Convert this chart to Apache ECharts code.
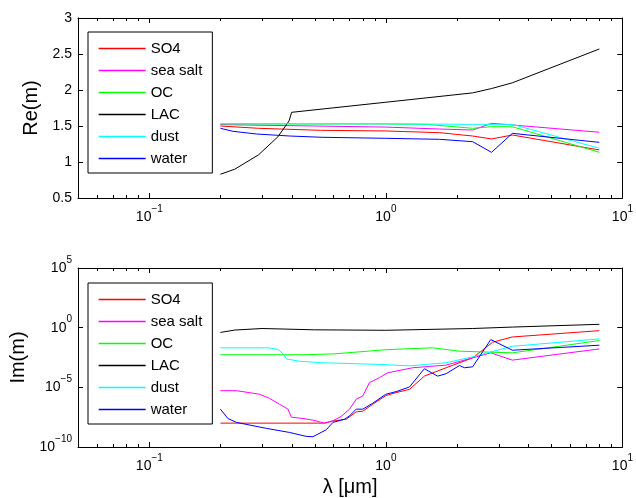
<!DOCTYPE html>
<html><head><meta charset="utf-8">
<script src="https://cdn.jsdelivr.net/npm/echarts@6/dist/echarts.min.js"></script>
<style>html,body{margin:0;padding:0;background:#fff}#c{width:636px;height:498px}</style>
</head><body><div id="c"></div>
<script>
// ---------- Data ----------
const seriesNames = ['SO4', 'sea salt', 'OC', 'LAC', 'dust', 'water'];
const seriesColors = ['#ff0000', '#ff00ff', '#00ff00', '#000000', '#00ffff', '#0000ff'];

// Real part Re(m): wavelengths (µm) and values
const reLamSO4 = [0.2, 0.29, 0.53, 1.0, 1.69, 2.33, 2.8, 3.43, 8.0];
const reSO4    = [1.50, 1.468, 1.44, 1.431, 1.407, 1.361, 1.32, 1.375, 1.167];
const reLamSeaSalt = [0.2, 0.3, 0.5, 1.0, 1.69, 2.33, 2.8, 3.43, 8.0];
const reSeaSalt    = [1.52, 1.51, 1.50, 1.485, 1.458, 1.444, 1.537, 1.514, 1.413];
const reLamOC = [0.2, 1.0, 1.5, 2.33, 2.8, 3.43, 8.0];
const reOC    = [1.528, 1.528, 1.522, 1.468, 1.49, 1.49, 1.134];
const reLamLAC = [0.2, 0.23, 0.29, 0.35, 0.39, 0.40, 1.0, 2.33, 2.8, 3.43, 8.0];
const reLAC    = [0.83, 0.90, 1.10, 1.35, 1.57, 1.69, 1.83, 1.96, 2.02, 2.10, 2.57];
const reLamDust = [0.2, 1.0, 2.33, 3.43, 8.0];
const reDust    = [1.532, 1.53, 1.523, 1.523, 1.19];
const reLamWater = [0.2, 0.226, 0.284, 0.392, 0.542, 1.0, 1.69, 2.33, 2.8, 3.43, 8.0];
const reWater    = [1.468, 1.426, 1.389, 1.361, 1.343, 1.329, 1.315, 1.282, 1.134, 1.398, 1.273];

// Imaginary part Im(m): wavelengths (µm) and log10 of values
const imLamSO4 = [0.2, 0.55, 0.598, 0.68, 0.75, 0.80, 0.88, 1.0, 1.106, 1.26, 1.456, 1.8, 2.33, 2.83, 3.43, 8.0];
const imLogSO4 = [-8.0, -8.0, -7.83, -7.67, -7.06, -7.0, -6.42, -5.7, -5.44, -5.17, -4.06, -3.36, -2.53, -1.22, -0.78, -0.25];
const imLamSeaSalt = [0.2, 0.234, 0.293, 0.322, 0.356, 0.386, 0.399, 0.447, 0.492, 0.551, 0.598, 0.648, 0.703, 0.75, 0.80, 0.853, 0.94, 1.02, 1.3, 1.8, 2.33, 2.78, 3.43, 8.0];
const imLogSeaSalt = [-5.28, -5.28, -5.58, -5.92, -6.42, -6.83, -7.5, -7.61, -7.75, -8.0, -7.8, -7.44, -6.83, -6.0, -5.72, -4.61, -4.19, -3.78, -3.36, -3.14, -2.53, -2.11, -2.72, -1.78];
const imLamOC = [0.2, 0.45, 0.6, 1.0, 1.3, 1.58, 2.05, 3.43, 8.0];
const imLogOC = [-2.27, -2.27, -2.2, -1.85, -1.75, -1.69, -1.97, -2.11, -1.08];
const imLamLAC = [0.2, 0.23, 0.3, 0.5, 1.0, 2.33, 3.43, 8.0];
const imLogLAC = [-0.4, -0.2, -0.07, -0.18, -0.22, -0.07, 0.05, 0.28];
const imLamDust = [0.2, 0.32, 0.35, 0.368, 0.38, 0.43, 0.54, 0.94, 1.26, 1.8, 2.33, 3.43, 8.0];
const imLogDust = [-1.69, -1.69, -1.83, -2.17, -2.61, -2.81, -2.94, -3.08, -3.2, -2.94, -2.44, -1.56, -0.94];
const imLamWater = [0.2, 0.215, 0.234, 0.313, 0.392, 0.461, 0.492, 0.56, 0.598, 0.67, 0.703, 0.75, 0.80, 0.881, 1.0, 1.106, 1.26, 1.456, 1.657, 1.8, 2.05, 2.15, 2.33, 2.78, 3.43, 8.0];
const imLogWater = [-6.83, -7.61, -7.94, -8.44, -8.78, -9.11, -9.14, -8.56, -7.94, -7.67, -7.39, -6.83, -6.83, -6.33, -5.58, -5.36, -4.97, -3.44, -4.06, -3.86, -3.17, -3.36, -3.28, -1.0, -1.89, -1.47];

// Axis ticks
const reTicks = [0.5, 1, 1.5, 2, 2.5, 3];
const xMinorTicks = [0.06, 0.07, 0.08, 0.09, 0.2, 0.3, 0.4, 0.5, 0.6, 0.7, 0.8, 0.9, 2, 3, 4, 5, 6, 7, 8, 9];

// ---------- Build ----------
const FONT = 'Liberation Sans, Arial, Helvetica, sans-serif';
const reLams = [reLamSO4, reLamSeaSalt, reLamOC, reLamLAC, reLamDust, reLamWater];
const reVals = [reSO4, reSeaSalt, reOC, reLAC, reDust, reWater];
const imLams = [imLamSO4, imLamSeaSalt, imLamOC, imLamLAC, imLamDust, imLamWater];
const imLogs = [imLogSO4, imLogSeaSalt, imLogOC, imLogLAC, imLogDust, imLogWater];

function pow10Label(v) {
  const e = Math.round(Math.log10(v));
  const s = e < 0 ? '\u2212' + (-e) : String(e);
  return '{h| }{b|10}{s|' + s + '}';
}
const richSup = {
  h: { fontSize: 1, lineHeight: 26 },
  b: { fontSize: 14, fontFamily: FONT, color: '#000', lineHeight: 14, verticalAlign: 'middle' },
  s: { fontSize: 10, fontFamily: FONT, color: '#000', lineHeight: 10, verticalAlign: 'top' }
};

function xAxes(grid, name) {
  const common = {
    type: 'log', logBase: 10, min: 0.05, max: 10, gridIndex: grid,
    axisLine: { show: true, onZero: false, lineStyle: { color: '#000', width: 1 } },
    axisTick: { show: true, inside: true, length: 5, lineStyle: { color: '#000' } },
    splitLine: { show: false }, minorTick: { show: false }
  };
  return [
    Object.assign({}, common, {
      position: 'bottom',
      axisLabel: { show: true, showMinLabel: false, margin: 6, formatter: pow10Label, rich: richSup },
      name: name || '', nameLocation: 'middle', nameGap: 30,
      nameTextStyle: { fontSize: 20, fontFamily: FONT, color: '#000' }
    }),
    Object.assign({}, common, { position: 'top', axisLabel: { show: false } })
  ];
}

const reYCommon = {
  type: 'value', min: 0.5, max: 3, interval: 0.5, gridIndex: 0,
  axisLine: { show: true, onZero: false, lineStyle: { color: '#000', width: 1 } },
  axisTick: { show: true, inside: true, length: 5, lineStyle: { color: '#000' } },
  splitLine: { show: false }
};
const imYCommon = {
  type: 'log', logBase: 100000, min: 1e-10, max: 1e5, gridIndex: 1,
  axisLine: { show: true, onZero: false, lineStyle: { color: '#000', width: 1 } },
  axisTick: { show: true, inside: true, length: 5, lineStyle: { color: '#000' } },
  splitLine: { show: false }
};

const yAxis = [
  Object.assign({}, reYCommon, {
    position: 'left',
    axisLabel: { show: true, fontSize: 14, fontFamily: FONT, color: '#000', margin: 6,
      formatter: v => reTicks.indexOf(v) >= 0 ? String(v) : '' },
    name: 'Re(m)', nameLocation: 'middle', nameGap: 31,
    nameTextStyle: { fontSize: 20, fontFamily: FONT, color: '#000' }
  }),
  Object.assign({}, reYCommon, { position: 'right', axisLabel: { show: false } }),
  Object.assign({}, imYCommon, {
    position: 'left',
    axisLabel: { show: true, margin: 6, formatter: pow10Label, rich: richSup },
    name: 'Im(m)', nameLocation: 'middle', nameGap: 49,
    nameTextStyle: { fontSize: 20, fontFamily: FONT, color: '#000' }
  }),
  Object.assign({}, imYCommon, { position: 'right', axisLabel: { show: false } })
];

const xAxis = xAxes(0).concat(xAxes(1, '\u03bb [\u03bcm]'));

const series = [];
seriesNames.forEach((n, i) => {
  series.push({
    type: 'line', name: n, xAxisIndex: 0, yAxisIndex: 0, symbol: 'none',
    lineStyle: { color: seriesColors[i], width: 1 }, itemStyle: { color: seriesColors[i] },
    data: reLams[i].map((x, k) => [x, reVals[i][k]])
  });
});
seriesNames.forEach((n, i) => {
  series.push({
    type: 'line', name: n, xAxisIndex: 2, yAxisIndex: 2, symbol: 'none',
    lineStyle: { color: seriesColors[i], width: 1 }, itemStyle: { color: seriesColors[i] },
    data: imLams[i].map((x, k) => [x, Math.pow(10, imLogs[i][k])])
  });
});

function minorTickSeries(xi, yi, yMin, yMax) {
  return {
    type: 'custom', xAxisIndex: xi, yAxisIndex: yi, silent: true, clip: false,
    data: xMinorTicks.map(v => [v, yMin]),
    renderItem: (params, api) => {
      const x = api.value(0);
      const pb = api.coord([x, yMin]);
      const pt = api.coord([x, yMax]);
      const px = Math.round(pb[0]) + 0.5;
      return { type: 'group', children: [
        { type: 'line', shape: { x1: px, y1: pb[1], x2: px, y2: pb[1] - 3 }, style: { stroke: '#000', lineWidth: 1 } },
        { type: 'line', shape: { x1: px, y1: pt[1], x2: px, y2: pt[1] + 3 }, style: { stroke: '#000', lineWidth: 1 } }
      ] };
    }
  };
}
series.push(minorTickSeries(0, 0, 0.5, 3));
series.push(minorTickSeries(2, 2, 1e-10, 1e5));

function legendAt(top) {
  return {
    data: seriesNames, orient: 'vertical', left: 88, top: top,
    itemWidth: 47, itemHeight: 14, itemGap: 7,
    padding: [9, 10, 7, 10],
    borderColor: '#000', borderWidth: 1, backgroundColor: '#fff', borderRadius: 0,
    itemStyle: { opacity: 0 },
    lineStyle: { color: 'inherit', width: 1.3 },
    textStyle: { fontSize: 15, fontFamily: FONT, color: '#000' },
    selectedMode: false
  };
}

const chart = echarts.init(document.getElementById('c'), null, { renderer: 'canvas' });
chart.setOption({
  animation: false,
  backgroundColor: '#fff',
  grid: [
    { left: 78, top: 18, width: 546, height: 180, containLabel: false },
    { left: 78, top: 268, width: 546, height: 180, containLabel: false }
  ],
  xAxis: xAxis,
  yAxis: yAxis,
  legend: [legendAt(32), legendAt(283)],
  series: series
});
</script></body></html>
